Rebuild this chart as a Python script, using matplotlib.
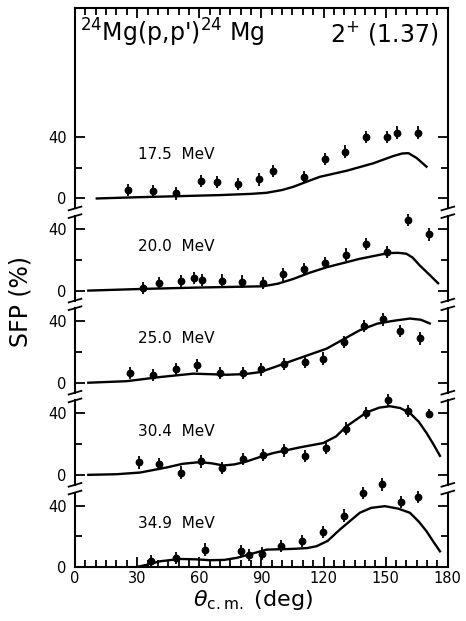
import matplotlib
matplotlib.use("Agg")
import matplotlib.pyplot as plt
import matplotlib.transforms as mtransforms
import numpy as np

plt.rcParams['font.family'] = ['DejaVu Sans']
plt.rcParams['mathtext.default'] = 'regular'

# energies and vertical offsets of the stacked panels (top to bottom)
energies = ["17.5  MeV", "20.0  MeV", "25.0  MeV", "30.4  MeV", "34.9  MeV"]
offsets = [240, 180, 120, 60, 0]

# measured points (deg, SFP %)
x175 = [25.7, 37.5, 48.7, 60.6, 68.7, 78.8, 88.8, 95.4, 110.5, 120.7, 130.3, 140.4, 150.4, 155.6, 165.4]
y175 = [5.4, 4.8, 3.3, 11.3, 10.9, 9.3, 12.4, 18.1, 14.1, 25.5, 30.5, 39.9, 39.9, 42.9, 42.9]
e175 = [4, 4, 4, 4, 4, 4, 4, 4, 4, 4, 4, 4, 4, 4, 4]

x200 = [32.7, 40.7, 51.0, 57.6, 61.1, 70.8, 80.8, 90.6, 100.5, 110.7, 120.7, 130.6, 140.4, 150.4, 160.9, 170.9]
y200 = [1.7, 5.0, 6.1, 8.3, 7.0, 6.5, 5.9, 5.0, 10.5, 14.2, 18.1, 23.5, 30.5, 25.0, 45.8, 36.6]
e200 = [4, 4, 4, 4, 4, 4, 4, 4, 4, 4, 4, 4, 4, 4, 4, 4]

x250 = [26.5, 37.5, 48.7, 58.7, 70.0, 80.9, 89.8, 100.9, 111.0, 119.8, 129.8, 139.6, 148.8, 156.9, 166.8]
y250 = [6.3, 5.2, 8.7, 11.3, 6.5, 6.3, 8.7, 12.4, 13.5, 15.7, 26.5, 37.0, 41.2, 33.7, 28.8]
e250 = [4, 4, 4, 4, 4, 4, 4, 4, 4, 4, 4, 4, 4, 4, 4]

x304 = [30.9, 40.7, 51.0, 60.8, 71.1, 80.9, 90.9, 100.9, 111.0, 121.0, 130.8, 140.4, 150.9, 160.9, 171.0]
y304 = [8.1, 7.2, 1.5, 8.7, 4.4, 10.2, 13.1, 15.9, 12.4, 17.4, 30.1, 40.3, 48.5, 41.4, 39.7]
e304 = [4, 4, 4, 4, 4, 4, 4, 4, 4, 4, 4, 4, 4, 4, 3]

x349 = [36.5, 48.7, 62.7, 80.1, 84.1, 90.1, 99.3, 109.4, 119.5, 130.0, 139.2, 148.0, 157.3, 165.4]
y349 = [4.1, 5.9, 11.3, 10.2, 8.0, 8.7, 13.5, 16.7, 22.6, 33.5, 48.4, 53.8, 42.5, 45.8]
e349 = [4, 4, 4, 4, 4, 4, 4, 4, 4, 4, 4, 4, 4, 4]

# calculated curves
c175x = [10.5, 30, 50, 70, 85, 92.5, 100, 105.4, 112, 118.2, 131, 144, 153.6, 158, 161, 164.9, 169.7]
c175y = [0, 0.8, 1.5, 2.2, 3, 3.7, 5.5, 7.6, 11, 14.1, 18, 22.9, 27.6, 29.3, 29.5, 26.4, 20.7]

c200x = [6.4, 32.8, 60, 90.7, 98, 105.4, 113, 121.5, 137.5, 146, 151.2, 156, 160, 163, 166.5, 171, 175.3]
c200y = [0, 1.1, 2, 2.8, 4.5, 7.6, 11.5, 15.2, 20.7, 23, 24.4, 24.6, 24, 21.5, 16.3, 10.5, 4.8]

c250x = [6.4, 24.9, 41, 57.1, 73.2, 82, 89.3, 97, 105.4, 121.5, 137.5, 146, 153.6, 161.7, 167, 171.3]
c250y = [0, 1, 3.7, 5.9, 5.2, 5.6, 6.9, 10.5, 14.6, 22.2, 34.2, 38.5, 40.3, 41.8, 41, 38.6]

c304x = [6.4, 20, 31.4, 44.2, 52, 60.3, 66, 71.6, 77, 82.8, 89, 95.7, 108.6, 119.8, 126, 131.1,
         140.8, 147, 152, 157, 161.7, 166, 169.7, 173, 176.2]
c304y = [0, 0.4, 1.5, 4.8, 7.2, 8.3, 7.5, 6.1, 6.8, 8.7, 11.5, 14.2, 17.9, 20.7, 25, 31.6,
         40.7, 43.8, 44.7, 43.5, 40.3, 34.5, 27.3, 20, 12.4]

c349x = [29.8, 35, 41, 50.7, 58, 65.2, 72, 78, 85, 92.5, 105.4, 112, 116.6, 122, 127.9, 137.5,
         143, 149.6, 156, 161.7, 166, 169.7, 173, 176.2]
c349y = [0, 1.5, 3.7, 5.2, 5, 4.4, 4.6, 5.9, 8.5, 11.3, 11.8, 12.3, 13.5, 17, 24.4, 35.3,
         38.5, 39.6, 38, 35.3, 29.5, 23.3, 16.5, 10.2]

points = [(x175, y175, e175), (x200, y200, e200), (x250, y250, e250), (x304, y304, e304), (x349, y349, e349)]
curves = [(c175x, c175y), (c200x, c200y), (c250x, c250y), (c304x, c304y), (c349x, c349y)]

fig = plt.figure(figsize=(4.66, 6.21), dpi=100)
ax = fig.add_axes([0.161, 0.087, 0.800, 0.900])

for off, lab, (px, py, pe), (cx, cy) in zip(offsets, energies, points, curves):
    ax.plot(cx, np.array(cy) + off, color='k', lw=1.7)
    ax.errorbar(px, np.array(py) + off, yerr=pe, fmt='o', color='k', ms=4.6,
                elinewidth=1.3, capsize=0)
    ax.text(30.5, off + 28.5, lab, fontsize=11, ha='left', va='center')

ax.set_xlim(0, 180)
ax.set_ylim(0, 364)

ax.set_xticks(np.arange(0, 181, 30))
ax.set_xticks(np.arange(0, 181, 5), minor=True)
ax.set_yticks([o + v for o in offsets for v in (0, 40)])
ax.set_yticklabels(["0", "40"] * len(offsets))
ax.set_yticks([o + 20 for o in offsets], minor=True)
ax.tick_params(which='both', direction='in', top=True, right=True, width=1.3)
ax.tick_params(which='major', length=7)
ax.tick_params(which='minor', length=5)
ax.tick_params(axis='x', labelsize=10.5, pad=3)
ax.tick_params(axis='y', labelsize=10.5, pad=6)

# broken left/right spines
ax.spines['left'].set_visible(False)
ax.spines['right'].set_visible(False)
for s in ('top', 'bottom'):
    ax.spines[s].set_linewidth(1.5)
trans = mtransforms.blended_transform_factory(ax.transAxes, ax.transData)
for i, off in enumerate(offsets):
    lo = 0 if off == 0 else off - 6.5
    hi = 364 if i == 0 else off + 48.5
    for xa in (0, 1):
        ax.plot([xa, xa], [lo, hi], color='k', lw=1.5, transform=trans, clip_on=False)
        ends = []
        if off != 0:
            ends.append(lo)
        if i != 0:
            ends.append(hi)
        for yb in ends:
            ax.plot([xa - 0.017, xa + 0.017], [yb - 1.2, yb + 1.2], color='k', lw=1.3,
                    transform=trans, clip_on=False)

ax.text(0.013, 0.955, r"$^{24}$Mg(p,p')$^{24}$ Mg", transform=ax.transAxes,
        fontsize=17, ha='left', va='center')
ax.text(0.975, 0.955, r"2$^{+}$ (1.37)", transform=ax.transAxes,
        fontsize=17, ha='right', va='center')

ax.set_xlabel(r"$\mathit{\theta}_{\rm c.m.}$ (deg)", fontsize=16)
ax.xaxis.set_label_coords(0.477, -0.038)
ax.set_ylabel("SFP (%)", fontsize=17)
ax.yaxis.set_label_coords(-0.115, 0.475)

fig.savefig("out.png", dpi=100)
